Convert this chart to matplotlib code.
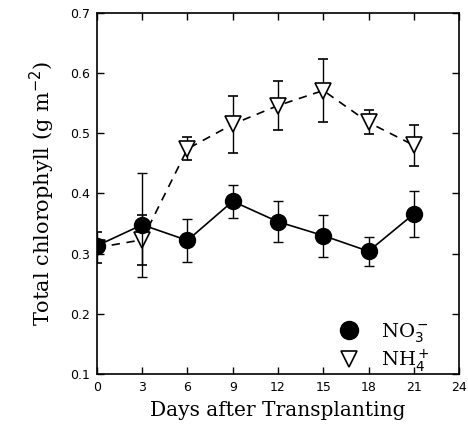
import matplotlib
matplotlib.use("Agg")
import matplotlib.pyplot as plt
from matplotlib.lines import Line2D

days = [0, 3, 6, 9, 12, 15, 18, 21]
no3 = [0.313, 0.348, 0.322, 0.387, 0.353, 0.330, 0.304, 0.366]
no3_err = [0.010, 0.086, 0.036, 0.027, 0.034, 0.035, 0.024, 0.038]
nh4 = [0.310, 0.323, 0.474, 0.515, 0.546, 0.571, 0.518, 0.480]
nh4_err = [0.026, 0.042, 0.019, 0.047, 0.040, 0.052, 0.020, 0.034]
xticks = [0, 3, 6, 9, 12, 15, 18, 21, 24]
yticks = [0.1, 0.2, 0.3, 0.4, 0.5, 0.6, 0.7]

fig = plt.figure(figsize=(4.68, 4.28), dpi=100)
ax = fig.add_axes([0.207, 0.126, 0.774, 0.844])

ax.errorbar(days, nh4, yerr=nh4_err, fmt='v', ls=(0, (5, 4)), color='black',
            mfc='white', mec='black', ms=11, mew=1.2, lw=1.2, ecolor='black',
            elinewidth=1.0, capsize=3.5, capthick=1.0, zorder=2)
ax.errorbar(days, no3, yerr=no3_err, fmt='o', ls='-', color='black',
            mfc='black', mec='black', ms=11.5, lw=1.2, ecolor='black',
            elinewidth=1.0, capsize=3.5, capthick=1.0, zorder=3)

ax.set_xlim(0, 24)
ax.set_ylim(0.1, 0.7)
ax.set_xticks(xticks)
ax.set_yticks(yticks)
ax.set_yticklabels([f"{v:.1f}" for v in yticks])
ax.tick_params(direction='in', top=True, right=True, length=5, width=1, labelsize=9, pad=5)
for s in ax.spines.values():
    s.set_linewidth(1.2)

ax.set_xlabel("Days after Transplanting", family='DejaVu Serif', fontsize=14.5, labelpad=5)
ax.set_ylabel(r"Total chlorophyll (g m$^{-2}$)", family='DejaVu Serif', fontsize=15, labelpad=9)

handles = [Line2D([], [], ls='none', marker='o', ms=13, mfc='black', mec='black'),
           Line2D([], [], ls='none', marker='v', ms=12, mfc='white', mec='black', mew=1.2)]
ax.legend(handles, [r'NO$_3^-$', r'NH$_4^+$'], loc='lower right', frameon=False,
          bbox_to_anchor=(0.983, -0.065),
          prop={'family': 'DejaVu Serif', 'size': 14}, handletextpad=0.9,
          handlelength=1.5, borderaxespad=0.8, labelspacing=0.15)

fig.savefig("out.png", dpi=100)
